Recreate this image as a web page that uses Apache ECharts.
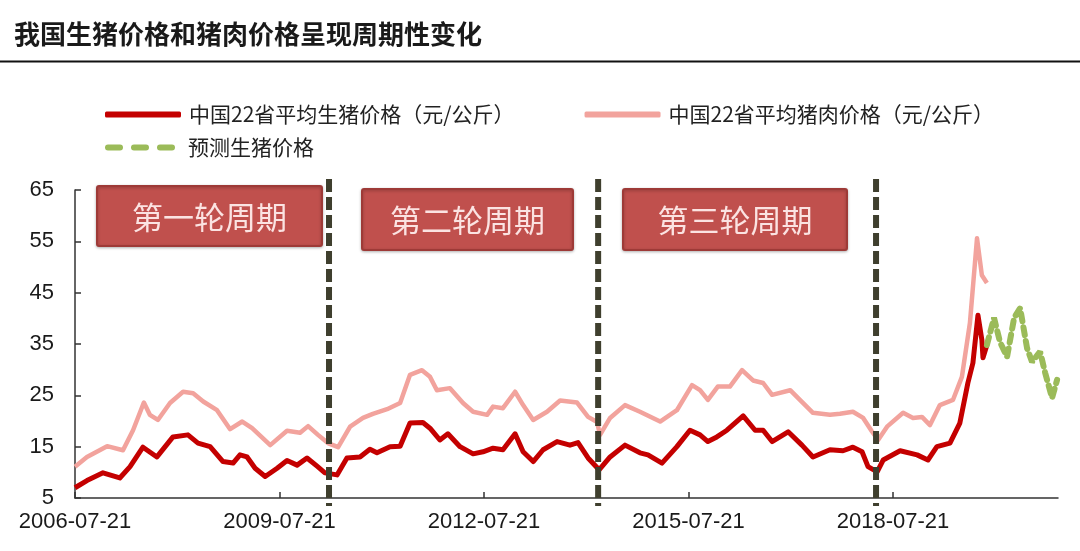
<!DOCTYPE html>
<html>
<head>
<meta charset="utf-8">
<script src="https://cdn.jsdelivr.net/npm/echarts@6/dist/echarts.min.js"></script>
<style>
html,body{margin:0;padding:0;background:#fff;}
#main{width:1080px;height:551px;}
</style>
</head>
<body>
<div id="main"></div>
<script>
// ---- data ----
const hogDates = ['2006-07-21','2006-09-23','2006-12-18','2007-03-18','2007-05-12','2007-07-20','2007-10-03','2007-12-28','2008-03-17','2008-05-10','2008-07-14','2008-09-21','2008-11-14','2008-12-21','2009-01-28','2009-03-12','2009-05-05','2009-07-08','2009-08-30','2009-10-23','2009-12-15','2010-02-07','2010-03-21','2010-05-25','2010-07-17','2010-09-25','2010-11-17','2010-12-25','2011-03-05','2011-04-28','2011-06-20','2011-08-28','2011-10-05','2011-11-27','2012-01-09','2012-03-14','2012-05-23','2012-07-15','2012-09-07','2012-10-30','2013-01-03','2013-02-15','2013-04-10','2013-06-02','2013-08-16','2013-10-24','2013-12-06','2014-01-29','2014-03-29','2014-05-27','2014-08-15','2014-11-03','2014-12-16','2015-03-01','2015-05-20','2015-07-29','2015-09-21','2015-11-02','2015-12-20','2016-02-12','2016-05-09','2016-07-12','2016-08-24','2016-10-11','2017-01-05','2017-03-20','2017-05-18','2017-08-17','2017-10-26','2017-12-18','2018-02-05','2018-03-09','2018-04-27','2018-05-29','2018-08-28','2018-11-27','2019-01-24','2019-03-13','2019-05-22','2019-07-14','2019-08-26','2019-09-22','2019-10-19','2019-11-09','2019-11-15','2019-12-06'];
const hogPrices = [7.0,8.4,9.9,8.9,11.1,14.9,13.0,16.9,17.3,15.7,15.0,12.1,11.8,13.4,13.0,10.8,9.2,10.8,12.3,11.4,12.8,11.2,9.9,9.5,12.8,13.0,14.5,13.8,15.0,15.1,19.6,19.7,18.6,16.3,17.5,15.0,13.6,14.0,14.7,14.4,17.5,14.0,12.1,14.4,16.0,15.3,15.8,12.8,10.5,13.0,15.3,13.8,13.4,11.8,15.0,18.2,17.3,16.0,16.9,18.2,21.0,18.2,18.2,16.0,17.9,15.3,13.0,14.4,14.2,14.9,14.0,11.1,10.1,12.4,14.2,13.4,12.4,15.0,15.7,19.6,27.4,31.3,40.6,35.8,32.3,34.8];

const porkDates = ['2006-07-21','2006-09-23','2007-01-09','2007-04-04','2007-05-28','2007-07-25','2007-08-26','2007-10-08','2007-12-12','2008-02-20','2008-04-14','2008-06-07','2008-08-20','2008-10-29','2009-01-02','2009-02-24','2009-06-01','2009-08-30','2009-11-08','2009-12-21','2010-02-12','2010-04-06','2010-05-31','2010-08-03','2010-10-11','2010-12-03','2011-02-17','2011-04-28','2011-06-20','2011-08-23','2011-10-05','2011-11-11','2012-01-20','2012-03-30','2012-05-23','2012-08-06','2012-09-07','2012-10-30','2013-01-03','2013-02-15','2013-04-10','2013-06-23','2013-09-01','2013-12-01','2014-01-29','2014-03-18','2014-04-03','2014-05-27','2014-08-15','2014-11-03','2015-02-19','2015-05-20','2015-08-09','2015-09-21','2015-11-02','2015-12-25','2016-02-28','2016-05-03','2016-07-01','2016-08-24','2016-10-11','2017-01-16','2017-03-09','2017-05-18','2017-08-17','2017-10-10','2017-12-18','2018-02-11','2018-03-31','2018-05-02','2018-06-19','2018-09-13','2018-11-05','2018-12-23','2019-02-04','2019-03-29','2019-06-07','2019-07-25','2019-09-06','2019-10-03','2019-10-14','2019-11-09','2019-12-06'];
const porkPrices = [11.1,13.0,15.1,14.3,18.2,23.6,21.2,20.2,23.5,25.7,25.4,23.8,22.1,18.4,19.9,18.6,15.3,18.1,17.7,19.0,17.3,15.7,14.9,18.9,20.6,21.4,22.3,23.5,29.0,29.9,28.6,26.0,26.4,23.5,21.8,21.2,22.8,22.5,25.7,23.1,20.2,21.8,24.0,23.6,20.8,19.8,17.3,20.6,23.1,21.8,19.9,22.1,27.0,26.0,24.1,26.7,26.7,29.9,27.9,27.4,25.1,26.0,24.1,21.6,21.2,21.4,21.8,20.6,17.9,16.3,18.9,21.6,20.6,20.8,19.2,23.1,24.1,28.6,39.1,50.8,55.6,48.4,46.9];

const forecastDates = ['2019-12-06','2020-01-13','2020-02-14','2020-03-23','2020-04-30','2020-06-01','2020-07-08','2020-08-04','2020-09-16','2020-10-13','2020-11-19','2020-12-16'];
const forecastPrices = [34.8,40.1,35.4,32.5,40.1,42.0,34.2,31.5,33.5,29.4,24.5,28.0];

const cycleBoundaries = ['2010-04-12','2014-03-24','2018-04-21'];
const cycleLabels = ['第一轮周期','第二轮周期','第三轮周期'];
const xLabelYears = [2006, 2009, 2012, 2015, 2018];

const seriesNames = ['中国22省平均生猪价格（元/公斤）','中国22省平均猪肉价格（元/公斤）','预测生猪价格'];
const titleText = '我国生猪价格和猪肉价格呈现周期性变化';

// ---- helpers ----
const t0 = Date.UTC(2006, 6, 21);
function yearsOf(s) {
  const p = s.split('-').map(Number);
  return (Date.UTC(p[0], p[1] - 1, p[2]) - t0) / (365.25 * 86400000);
}
function pairs(dates, vals) { return dates.map((d, i) => [yearsOf(d), vals[i]]); }

const RED = '#C40000', PINK = '#F2A39D', GREEN = '#9BBB59';
const CJK = '"Noto Sans CJK SC", sans-serif';
const LAT = '"Liberation Sans", Arial, sans-serif';

const chart = echarts.init(document.getElementById('main'));

const boxes = [
  {x: 97, y: 186, w: 225, h: 60},
  {x: 362, y: 189, w: 211, h: 61},
  {x: 623, y: 189, w: 224, h: 61}
];
function baseGraphics() {
  const g = [{
    id: 'underline', type: 'line', z: 10,
    shape: {x1: 0, y1: 61.5, x2: 1080, y2: 61.5},
    style: {stroke: '#111', lineWidth: 2}
  }];
  boxes.forEach((b, i) => {
    g.push({
      id: 'box' + i, type: 'rect', z: 10,
      shape: {x: b.x, y: b.y, width: b.w, height: b.h, r: 2},
      style: {fill: '#C0504D', stroke: '#9E3A37', lineWidth: 2,
               shadowBlur: 3, shadowColor: 'rgba(0,0,0,0.25)', shadowOffsetY: 1}
    });
    g.push({
      id: 'boxtxt' + i, type: 'text', z: 11,
      style: {text: cycleLabels[i], x: b.x + b.w / 2, y: b.y + b.h / 2 + 1,
              align: 'center', verticalAlign: 'middle',
              font: 'normal 31px ' + CJK, fill: '#FBE3E2'}
    });
  });
  return g;
}

const legendText = {fontFamily: CJK, fontSize: 21, color: '#222', padding: [0, 0, 0, 3]};
const option = {
  animation: false,
  backgroundColor: '#ffffff',
  title: {
    text: titleText, left: 14, top: 21, padding: 0,
    textStyle: {fontFamily: CJK, fontSize: 26, fontWeight: 'bold', color: '#1a1a1a'}
  },
  legend: [
    {
      data: [{name: seriesNames[0], icon: 'roundRect'}, {name: seriesNames[1], icon: 'roundRect'}],
      left: 105, top: 104, padding: 0, orient: 'horizontal',
      itemWidth: 76, itemHeight: 6, itemGap: 70,
      textStyle: legendText
    },
    {
      data: [{name: seriesNames[2],
              icon: 'path://M3,0h12a3,3 0 0 1 0,6h-12a3,3 0 0 1 0,-6z M29,0h12a3,3 0 0 1 0,6h-12a3,3 0 0 1 0,-6z M55,0h12a3,3 0 0 1 0,6h-12a3,3 0 0 1 0,-6z'}],
      left: 105, top: 137, padding: 0,
      itemWidth: 72, itemHeight: 6,
      textStyle: {fontFamily: CJK, fontSize: 21, color: '#222', padding: [0, 0, 0, 7]}
    }
  ],
  grid: {left: 75, right: 22, top: 190, bottom: 53},
  xAxis: {
    type: 'value', min: 0, max: 14.42, interval: 3,
    axisLine: {lineStyle: {color: '#333', width: 1.5}},
    axisTick: {show: true, inside: true, length: 6, lineStyle: {color: '#333', width: 1.5}},
    splitLine: {show: false},
    axisLabel: {
      showMaxLabel: false, margin: 13,
      fontFamily: LAT, fontSize: 22, color: '#1a1a1a',
      formatter: function (v) {
        const y = 2006 + Math.round(v);
        return (Math.abs(v - Math.round(v)) < 1e-6 && xLabelYears.indexOf(y) >= 0) ? y + '-07-21' : '';
      }
    }
  },
  yAxis: {
    type: 'value', min: 5, max: 65, interval: 10,
    axisLine: {show: true, lineStyle: {color: '#333', width: 1.5}},
    axisTick: {show: true, inside: true, length: 6, lineStyle: {color: '#333', width: 1.5}},
    splitLine: {show: false},
    axisLabel: {margin: 21, fontFamily: LAT, fontSize: 22, color: '#1a1a1a'}
  },
  series: [
    {
      name: seriesNames[1], type: 'line', z: 2,
      data: pairs(porkDates, porkPrices),
      symbol: 'none', showSymbol: false,
      lineStyle: {color: PINK, width: 4.5, join: 'round'}, itemStyle: {color: PINK}
    },
    {
      name: seriesNames[0], type: 'line', z: 3,
      data: pairs(hogDates, hogPrices),
      symbol: 'none', showSymbol: false,
      lineStyle: {color: RED, width: 5, join: 'round'}, itemStyle: {color: RED}
    },
    {
      name: seriesNames[2], type: 'line', z: 3,
      data: pairs(forecastDates, forecastPrices),
      symbol: 'none', showSymbol: false,
      lineStyle: {color: GREEN, width: 6, type: [8, 6], cap: 'round'}, itemStyle: {color: GREEN}
    }
  ],
  graphic: baseGraphics()
};
chart.setOption(option);

// vertical cycle boundary lines, positioned through the x axis scale
const g = baseGraphics();
cycleBoundaries.forEach((d, i) => {
  const px = chart.convertToPixel({xAxisIndex: 0}, yearsOf(d));
  g.push({
    id: 'cyc' + i, type: 'line', z: 20,
    shape: {x1: px, y1: 179, x2: px, y2: 506},
    style: {stroke: '#3F3F2E', lineWidth: 6, lineDash: [13, 5]}
  });
});
chart.setOption({graphic: g});
</script>
</body>
</html>
